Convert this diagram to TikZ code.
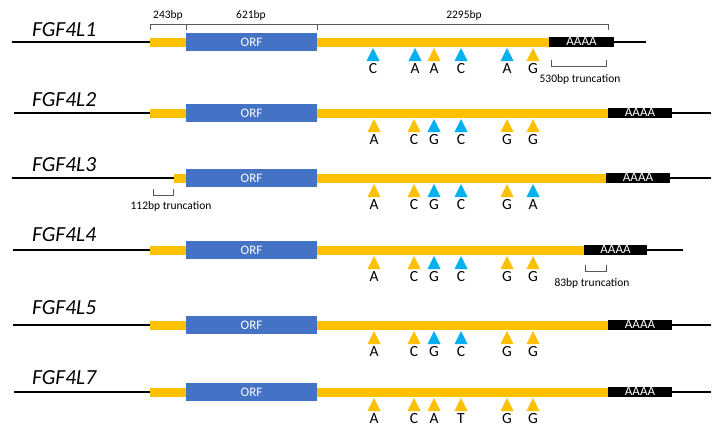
\documentclass[tikz,border=0pt]{standalone}
\usepackage{fontspec}
\setmainfont{Carlito}
\definecolor{utr}{HTML}{FFC000}
\definecolor{orf}{HTML}{4472C4}
\definecolor{snpb}{HTML}{00B0F0}
\definecolor{brk}{HTML}{595959}
\tikzset{
  gline/.style={line width=1.5pt,black},
  orfbox/.style={fill=orf,inner sep=0pt,outer sep=0pt,minimum width=131pt,minimum height=18pt,text=white,font=\fontsize{13}{15}\selectfont},
  polya/.style={fill=black,inner sep=0pt,outer sep=0pt,minimum height=10pt,text height=6pt,text depth=0pt,text=white,anchor=west,font=\fontsize{13}{15}\selectfont},
  genelab/.style={anchor=west,inner sep=0pt,font=\fontsize{21.5}{24}\selectfont\itshape},
  snplab/.style={inner sep=0pt,font=\fontsize{15.5}{17}\selectfont},
  smalllab/.style={inner sep=0pt,font=\fontsize{11.5}{13}\selectfont},
  brkline/.style={brk,line width=0.8pt}
}
% id, y, label, label y, line start, utr start, polyA start, polyA end, line end
\newcommand\generow[9]{%
  \coordinate (#1ls) at (#5,#2);
  \coordinate (#1le) at (#9,#2);
  \draw[gline] (#1ls) -- (#1le);
  \fill[utr] (#6,#2-4.5) rectangle (#7,#2+4.5);
  \node[orfbox] (#1orf) at (251.5,#2) {ORF};
  \node[polya,minimum width={(#8-#7)*1pt}] (#1pa) at (#7,#2) {AAAA};
  \node[genelab] (#1name) at (32,#4) {#3};
}
\newcommand\snp[5]{%
  \fill[#4] (#2,#3+6) -- (#2-6.5,#3+19) -- (#2+6.5,#3+19) -- cycle;
  \node[snplab] (#1) at (#2,#3+27) {#5};
}
\newcommand\snprow[3]{%
  \foreach \xx/\cc/\ll [count=\ii] in {#3}{\snp{#1s\ii}{\xx}{#2}{\cc}{\ll}}
}
\begin{document}
\begin{tikzpicture}[x=1pt,y=-1pt]
\useasboundingbox (0,0) rectangle (723,437);
% rows
\generow{r1}{42}{FGF4L1}{30}{12}{150}{549}{614}{646}
\generow{r2}{113}{FGF4L2}{100}{14}{150}{608}{672}{711}
\generow{r3}{178}{FGF4L3}{165}{12}{174}{606}{670}{711}
\generow{r4}{250}{FGF4L4}{235}{13}{150}{584}{647}{683}
\generow{r5}{325}{FGF4L5}{308}{13}{150}{608}{672}{711}
\generow{r7}{392}{FGF4L7}{378}{14}{150}{608}{672}{711}
% SNPs
\snprow{r1}{42}{373/snpb/C,415/snpb/A,434/utr/A,461/snpb/C,507/snpb/A,533/utr/G}
\snprow{r2}{113}{374/utr/A,414/utr/C,434/snpb/G,461/snpb/C,507/utr/G,533/utr/G}
\snprow{r3}{178}{374/utr/A,414/utr/C,434/snpb/G,461/snpb/C,507/utr/G,533/snpb/A}
\snprow{r4}{250}{374/utr/A,414/utr/C,434/snpb/G,461/snpb/C,507/utr/G,533/utr/G}
\snprow{r5}{325}{374/utr/A,414/utr/C,434/snpb/G,461/snpb/C,507/utr/G,533/utr/G}
\snprow{r7}{392}{374/utr/A,414/utr/C,434/utr/A,461/utr/T,507/utr/G,533/utr/G}
% top length brackets
\coordinate (b0) at (150,24);
\coordinate (b1) at (186,24);
\coordinate (b2) at (317,24);
\coordinate (b3) at (608,24);
\draw[brkline] (b0) -- (b3);
\foreach \b in {b0,b1,b2,b3}{\draw[brkline] (\b) -- ++(0,6);}
\node[smalllab] (l243) at (168,15) {243bp};
\node[smalllab] (l621) at (251,15) {621bp};
\node[smalllab] (l2295) at (464,15) {2295bp};
% truncation brackets
\coordinate (t1a) at (551,66);
\coordinate (t1b) at (606,66);
\draw[brkline] ([yshift=6pt]t1a) -- (t1a) -- (t1b) -- ([yshift=6pt]t1b);
\node[smalllab] (t1l) at (580,79) {530bp truncation};
\coordinate (t3a) at (153,195);
\coordinate (t3b) at (173,195);
\draw[brkline] ([yshift=6pt]t3a) -- (t3a) -- (t3b) -- ([yshift=6pt]t3b);
\node[smalllab] (t3l) at (171,206) {112bp truncation};
\coordinate (t4a) at (585,271);
\coordinate (t4b) at (606,271);
\draw[brkline] ([yshift=6pt]t4a) -- (t4a) -- (t4b) -- ([yshift=6pt]t4b);
\node[smalllab] (t4l) at (592,283) {83bp truncation};
\end{tikzpicture}
\end{document}
